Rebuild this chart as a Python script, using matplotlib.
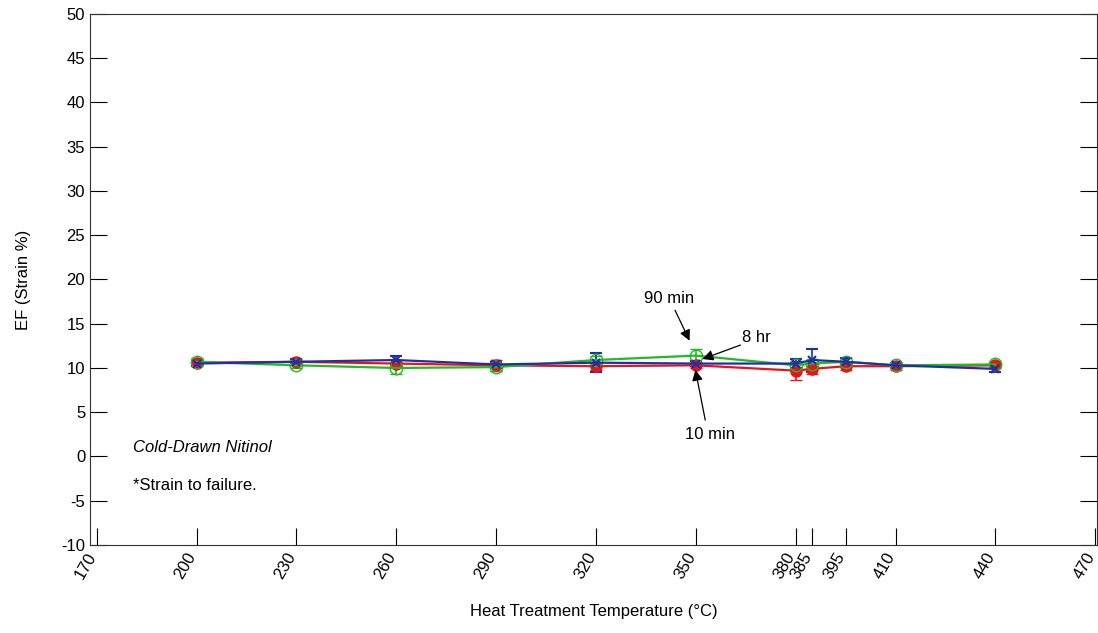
import numpy as np
import matplotlib
matplotlib.use("Agg")
import matplotlib.pyplot as plt

plt.rcParams['font.family'] = ['Liberation Sans', 'DejaVu Sans']
plt.rcParams['axes.unicode_minus'] = False

# ==========================
# DATA
# ==========================
temps = [200, 230, 260, 290, 320, 350, 380, 385, 395, 410, 440]
tick_temps = [170, 200, 230, 260, 290, 320, 350, 380, 385, 395, 410, 440, 470]

ef_10min = [10.6, 10.7, 10.5, 10.3, 10.2, 10.3, 9.7, 9.9, 10.2, 10.2, 10.3]
err_10min = [0.4, 0.3, 0.4, 0.6, 0.4, 0.3, 1.1, 0.6, 0.4, 0.4, 0.3]

ef_90min = [10.7, 10.3, 10.0, 10.1, 10.9, 11.4, 10.3, 10.5, 10.7, 10.3, 10.4]
err_90min = [0.4, 0.3, 0.7, 0.4, 0.5, 0.7, 0.4, 0.5, 0.4, 0.3, 0.3]

ef_8hr = [10.5, 10.7, 10.9, 10.4, 10.6, 10.5, 10.5, 10.9, 10.7, 10.3, 9.9]
err_8hr = [0.3, 0.3, 0.5, 0.3, 1.1, 0.3, 0.5, 1.3, 0.4, 0.3, 0.3]

# ==========================
# PLOT
# ==========================
fig = plt.figure(figsize=(10.98, 6.33), dpi=100)
ax = fig.add_axes([0.082, 0.139, 0.917, 0.839])

ax.errorbar(temps, ef_10min, yerr=err_10min, color='#e8141c', marker='o',
            markersize=8, mfc='#e8141c', lw=1.6, capsize=4.5, elinewidth=1.2)
ax.errorbar(temps, ef_90min, yerr=err_90min, color='#22bb22', marker='o',
            markersize=9, mfc='none', lw=1.6, capsize=4.5, elinewidth=1.2)
ax.errorbar(temps, ef_8hr, yerr=err_8hr, color='#1f2fa8', marker='x',
            markersize=6, mew=1.5, lw=1.6, capsize=4.5, elinewidth=1.2)

# annotations
arrow = dict(arrowstyle='-|>', color='black', lw=0.9, mutation_scale=16)
ax.annotate('', xy=(348.5, 12.8), xytext=(343.4, 16.8), arrowprops=arrow)
ax.text(341.9, 17.8, '90 min', ha='center', va='center', fontsize=12)
ax.annotate('', xy=(351.2, 10.9), xytext=(364.2, 12.7), arrowprops=arrow)
ax.text(368.1, 13.5, '8 hr', ha='center', va='center', fontsize=12)
ax.annotate('', xy=(349.7, 10.1), xytext=(353.0, 3.8), arrowprops=arrow)
ax.text(354.2, 2.5, '10 min', ha='center', va='center', fontsize=12)

ax.text(181, 1.0, 'Cold-Drawn Nitinol', style='italic', fontsize=12, va='center')
ax.text(181, -3.3, '*Strain to failure.', fontsize=12, va='center')

ax.set_xlim(168, 470.5)
ax.set_ylim(-10, 50)
ax.set_xticks(tick_temps)
ax.set_xticklabels([str(t) for t in tick_temps], rotation=60, fontsize=12,
                   ha='right', va='baseline', rotation_mode='anchor')
ax.set_yticks(np.arange(-10, 51, 5))
ax.tick_params(axis='y', direction='in', length=12, right=True, labelsize=12)
ax.tick_params(axis='x', direction='in', length=12, labelsize=12, pad=8)

ax.set_xlabel('Heat Treatment Temperature (°C)', fontsize=12, labelpad=16)
ax.set_ylabel('EF (Strain %)', fontsize=12, labelpad=22)

for s in ax.spines.values():
    s.set_color('#333333')

fig.savefig('out.png', dpi=100)
